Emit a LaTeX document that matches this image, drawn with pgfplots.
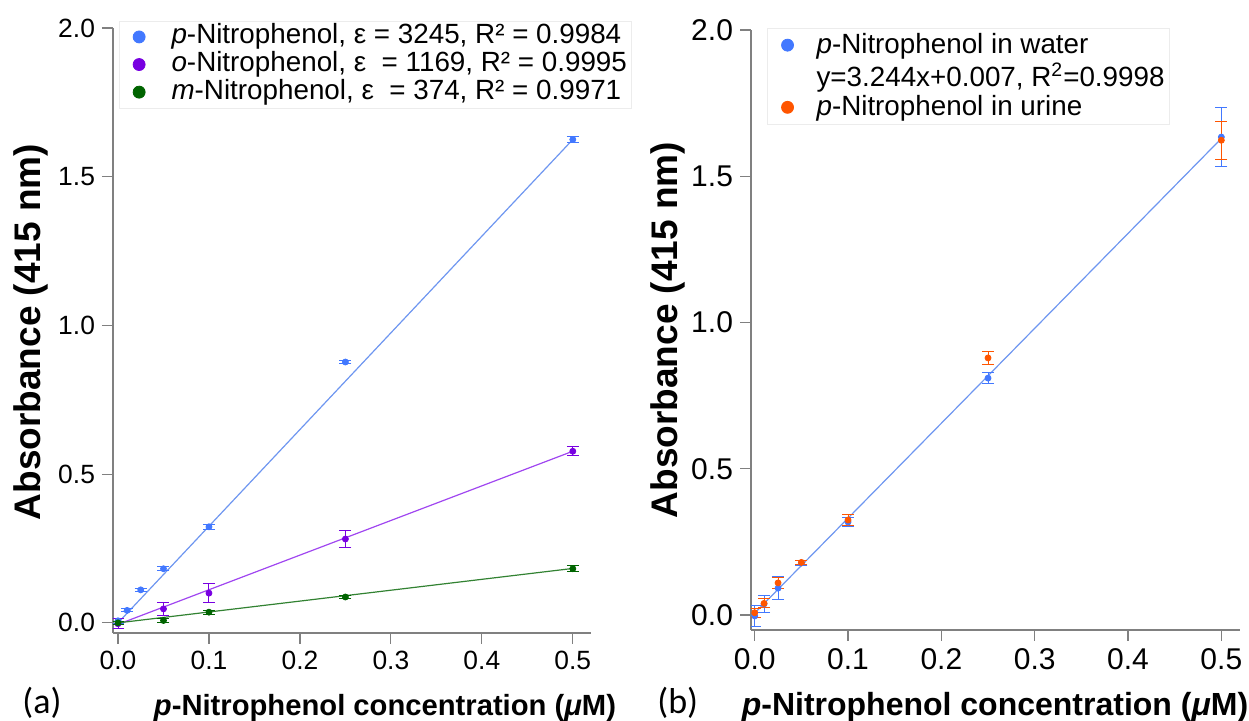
\documentclass[border=0pt]{standalone}
\usepackage{fontspec}
\setmainfont{Liberation Sans}
\newfontfamily\carlito{Carlito}
\usepackage{pgfplots}
\usepackage{pgfplotstable}
\pgfplotsset{compat=1.18}

\definecolor{pblue}{RGB}{66,120,255}
\definecolor{ppurple}{RGB}{120,0,225}
\definecolor{pgreen}{RGB}{0,100,0}
\definecolor{porange}{RGB}{255,85,0}
\definecolor{lblue}{RGB}{110,150,240}
\definecolor{lpurple}{RGB}{160,70,240}
\definecolor{lgreen}{RGB}{50,130,50}

% left panel data
\pgfplotstableread{
x y e
0 0.007 0.008
0.01 0.042 0.005
0.025 0.111 0.005
0.05 0.182 0.007
0.1 0.323 0.008
0.25 0.877 0.004
0.5 1.625 0.010
}\pL
\pgfplotstableread{
x y e
0 -0.003 0.017
0.05 0.047 0.022
0.1 0.100 0.032
0.25 0.282 0.027
0.5 0.577 0.015
}\oL
\pgfplotstableread{
x y e
0 0.000 0.005
0.05 0.008 0.006
0.1 0.036 0.007
0.25 0.087 0.004
0.5 0.182 0.010
}\mL
% right panel data
\pgfplotstableread{
x y e
0 -0.003 0.035
0.01 0.038 0.030
0.025 0.092 0.040
0.05 0.178 0.008
0.1 0.318 0.015
0.25 0.810 0.020
0.5 1.634 0.100
}\wat
\pgfplotstableread{
x y e
0 0.008 0.015
0.01 0.040 0.015
0.025 0.110 0.020
0.05 0.180 0.008
0.1 0.325 0.020
0.25 0.879 0.022
0.5 1.623 0.065
}\uri

\pgfplotsset{
  panel/.style={
    scale only axis, anchor=south west,
    axis x line*=bottom, axis y line*=left,
    axis line style={gray, line width=0.6pt},
    tick style={gray, line width=0.6pt},
    tick align=outside, major tick length=5.5pt,
    xtick={0,0.1,0.2,0.3,0.4,0.5}, ytick={0,0.5,1,1.5,2},
    /pgf/number format/fixed, /pgf/number format/fixed zerofill,
    /pgf/number format/precision=1, /pgf/number format/assume math mode=true,
    legend cell align=left,
  },
  pts/.style={only marks, mark=*, mark size=1.5pt, forget plot, color=#1,
    error bars/y dir=both, error bars/y explicit,
    error bars/error bar style={line width=0.5pt, #1},
    error bars/error mark options={rotate=90, mark size=3pt, line width=0.5pt, #1}},
  fit/.style={line width=0.6pt, forget plot, no marks},
  dot/.style 2 args={legend image code/.code={\fill[#1] (9pt,0) circle (3pt); \path[draw=none,fill=none] (0,0) -- (#2,0);}},
}

\begin{document}
\begin{tikzpicture}
\useasboundingbox (0,0) rectangle (624.5pt,360.5pt);

% ---------- panel (a)
\begin{axis}[panel, at={(56.5pt,44pt)}, width=239pt, height=302.5pt,
  xmin=-0.0055, xmax=0.52, ymin=-0.034, ymax=2.0,
  tick label style={font=\fontsize{13.2}{15}\selectfont},
  legend style={at={(axis description cs:0.012,1.012)}, anchor=north west,
    draw=gray!15, fill=white, font=\fontsize{13.9}{15}\selectfont,
    row sep=0pt, inner sep=1pt, nodes={inner sep=1.2pt, text height=9.2pt, text depth=2.2pt}},
]
\addlegendimage{dot={pblue}{24pt}}
\addlegendentry{\textit{p}-Nitrophenol, ε = 3245, R² = 0.9984}
\addlegendimage{dot={ppurple}{24pt}}
\addlegendentry{\textit{o}-Nitrophenol, ε\ \ = 1169, R² = 0.9995}
\addlegendimage{dot={pgreen}{24pt}}
\addlegendentry{\textit{m}-Nitrophenol, ε\ \ = 374, R² = 0.9971}

\addplot[fit, lblue] coordinates {(0,0) (0.5,1.625)};
\addplot[fit, lpurple] coordinates {(0,-0.005) (0.5,0.577)};
\addplot[fit, lgreen] coordinates {(0,0) (0.5,0.183)};
\addplot[pts=pblue] table[x=x, y=y, y error=e] {\pL};
\addplot[pts=ppurple] table[x=x, y=y, y error=e] {\oL};
\addplot[pts=pgreen] table[x=x, y=y, y error=e] {\mL};
\end{axis}

% ---------- panel (b)
\begin{axis}[panel, at={(375.5pt,45.5pt)}, width=244.5pt, height=300pt,
  xmin=-0.004, xmax=0.52, ymin=-0.051, ymax=2.0,
  tick label style={font=\fontsize{15}{17}\selectfont},
  legend style={at={(axis description cs:0.033,1.003)}, anchor=north west,
    draw=gray!15, fill=white, font=\fontsize{13.9}{15}\selectfont,
    row sep=0pt, inner sep=1pt, nodes={inner sep=1.5pt}},
]
\addlegendimage{dot={pblue}{22pt}}
\addlegendentry{\textit{p}-Nitrophenol in water}
\addlegendimage{empty legend}
\addlegendentry{y=3.244x+0.007, R\textsuperscript{2}=0.9998}
\addlegendimage{dot={porange}{22pt}}
\addlegendentry{\textit{p}-Nitrophenol in urine}

\addplot[fit, lblue] coordinates {(0,0.007) (0.5,1.629)};
\addplot[pts=pblue] table[x=x, y=y, y error=e] {\wat};
\addplot[pts=porange] table[x=x, y=y, y error=e] {\uri};
\end{axis}

% ---------- labels
\node[rotate=90, font=\bfseries\fontsize{18.5}{20}\selectfont] at (15.5pt,194.5pt) {Absorbance (415 nm)};
\node[rotate=90, font=\bfseries\fontsize{18.5}{20}\selectfont] at (334pt,195.5pt) {Absorbance (415 nm)};
\node[anchor=base, font=\bfseries\fontsize{14.6}{16}\selectfont] at (192.5pt,2.5pt) {\textit{p}-Nitrophenol concentration (\textit{μ}M)};
\node[anchor=base, font=\bfseries\fontsize{16}{18}\selectfont] at (497.5pt,2.5pt) {\textit{p}-Nitrophenol concentration (\textit{μ}M)};
\node[anchor=base west, inner sep=0pt, font=\carlito\fontsize{18}{20}\selectfont] at (11pt,3.5pt) {(a)};
\node[anchor=base west, inner sep=0pt, font=\carlito\fontsize{18}{20}\selectfont] at (328.5pt,3.5pt) {(b)};
\end{tikzpicture}
\end{document}
